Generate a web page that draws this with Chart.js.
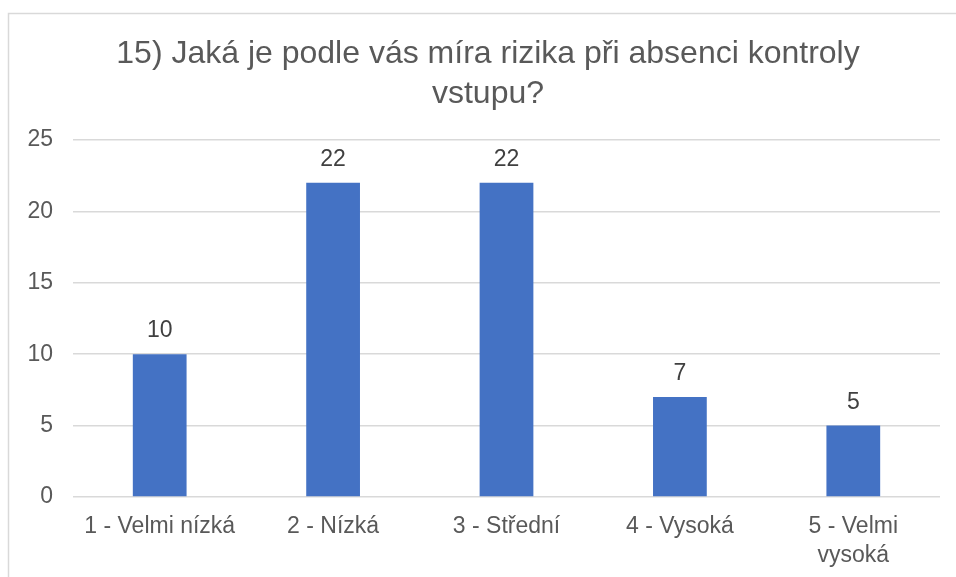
<!DOCTYPE html>
<html>
<head>
<meta charset="utf-8">
<script src="https://cdn.jsdelivr.net/npm/chart.js@4.4.1/dist/chart.umd.min.js"></script>
<style>
html,body{margin:0;padding:0;background:#fff;}
#wrap{width:956px;height:577px;position:relative;}
</style>
</head>
<body>
<div id="wrap"><canvas id="c" width="956" height="577"></canvas></div>
<script>
const titleLines = ["15) Jaká je podle vás míra rizika při absenci kontroly", "vstupu?"];
const categories = ["1 - Velmi nízká", "2 - Nízká", "3 - Střední", "4 - Vysoká", ["5 - Velmi", "vysoká"]];
const values = [10, 22, 22, 7, 5];
const yTicks = [0, 5, 10, 15, 20, 25];

const FONT = "'Liberation Sans', Arial, sans-serif";
const TEXT = '#595959';

const frame = {
  id: 'frame',
  beforeDraw(chart) {
    const ctx = chart.ctx;
    ctx.save();
    ctx.fillStyle = '#fff';
    ctx.fillRect(0, 0, chart.width, chart.height);
    ctx.strokeStyle = '#d9d9d9';
    ctx.lineWidth = 1.5;
    ctx.strokeRect(8.5, 13.5, chart.width + 20, chart.height + 20);
    ctx.restore();
  }
};

const chartTitle = {
  id: 'chartTitle',
  afterDraw(chart) {
    const ctx = chart.ctx;
    ctx.save();
    ctx.font = "32px " + FONT;
    ctx.fillStyle = TEXT;
    ctx.textAlign = 'center';
    ctx.textBaseline = 'middle';
    titleLines.forEach((line, i) => ctx.fillText(line, 488, 54 + i * 40));
    ctx.restore();
  }
};

const dataLabels = {
  id: 'dataLabels',
  afterDatasetsDraw(chart) {
    const ctx = chart.ctx;
    ctx.save();
    ctx.font = "23px " + FONT;
    ctx.fillStyle = '#404040';
    ctx.textAlign = 'center';
    ctx.textBaseline = 'alphabetic';
    const meta = chart.getDatasetMeta(0);
    meta.data.forEach((bar, i) => {
      ctx.fillText(String(chart.data.datasets[0].data[i]), bar.x, bar.y - 17);
    });
    ctx.restore();
  }
};

new Chart(document.getElementById('c'), {
  type: 'bar',
  data: {
    labels: categories,
    datasets: [{
      data: values,
      backgroundColor: '#4472c4',
      borderWidth: 0,
      barPercentage: 0.31,
      categoryPercentage: 1.0
    }]
  },
  options: {
    responsive: false,
    animation: false,
    devicePixelRatio: 1,
    layout: { padding: { left: 8, right: 16, top: 140, bottom: 0 } },
    plugins: {
      legend: { display: false },
      tooltip: { enabled: false },
      title: { display: false }
    },
    scales: {
      y: {
        min: 0,
        max: 25,
        afterBuildTicks(scale) { scale.ticks = yTicks.map(v => ({ value: v })); },
        afterFit(scale) { scale.width = 65; },
        grid: { color: '#d9d9d9', lineWidth: 1.5, drawTicks: false },
        border: { display: false },
        ticks: { color: TEXT, padding: 20, font: { family: FONT, size: 23 } }
      },
      x: {
        afterFit(scale) { scale.height = 80; },
        grid: { display: false, drawTicks: false },
        border: { display: false },
        ticks: { color: TEXT, padding: 15, maxRotation: 0, autoSkip: false, font: { family: FONT, size: 23, lineHeight: 1.26 } }
      }
    }
  },
  plugins: [frame, dataLabels, chartTitle]
});
</script>
</body>
</html>
